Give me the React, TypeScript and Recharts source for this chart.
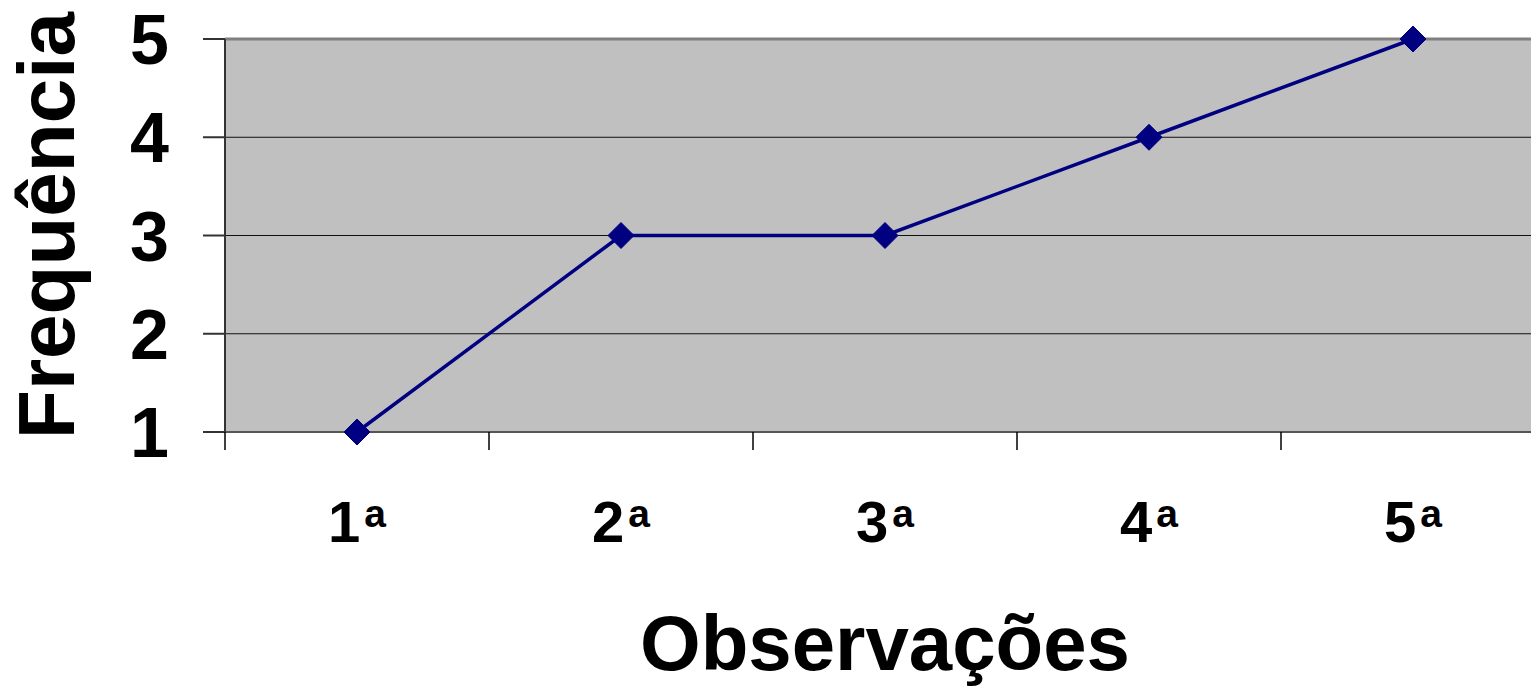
import { LineChart, Line, XAxis, YAxis, CartesianGrid, ReferenceLine } from 'recharts'

const observacoes = ['1', '2', '3', '4', '5']
const frequencias = [1, 3, 3, 4, 5]
const ticksY = [1, 2, 3, 4, 5]
// bordas das categorias (meios) e centros (inteiros)
const ticksX = [-0.5, 0, 0.5, 1, 1.5, 2, 2.5, 3, 3.5, 4, 4.5]

const dados = observacoes.map((obs, i) => ({ idx: i, obs, freq: frequencias[i] }))

const FONTE = '"Liberation Sans", Arial, Helvetica, sans-serif'

function TickX(props: any) {
  const { x, y, payload } = props
  const v = payload.value
  if (!Number.isInteger(v)) {
    return <line x1={x} y1={y} x2={x} y2={y + 18} stroke="#000" strokeWidth={1.5} />
  }
  return (
    <text x={x} y={y} dy={110} textAnchor="middle" fontFamily={FONTE} fontWeight="bold" fontSize={58} fill="#000">
      {observacoes[v]}
      <tspan fontSize={39} dx={4} dy={-15}>a</tspan>
    </text>
  )
}

function TickY(props: any) {
  const { x, y, payload } = props
  return (
    <text x={x} y={y} dx={-34} dy={25} textAnchor="end" fontFamily={FONTE} fontWeight="bold" fontSize={70} fill="#000">
      {payload.value}
    </text>
  )
}

function Losango(props: any) {
  const { cx, cy } = props
  if (cx == null || cy == null) return null
  const r = 13
  return (
    <polygon
      points={`${cx},${cy - r} ${cx + r},${cy} ${cx},${cy + r} ${cx - r},${cy}`}
      fill="#000080"
      stroke="#000080"
    />
  )
}

export default function App() {
  return (
    <div style={{ position: 'absolute', left: 0, top: 0, width: 1531, height: 687, overflow: 'hidden', background: '#fff' }}>
      <LineChart width={1546} height={687} data={dados} margin={{ top: 39, right: 1, left: 0, bottom: 0 }}>
        <CartesianGrid vertical={false} fill="#C0C0C0" stroke="#111" strokeWidth={1} />
        <ReferenceLine y={5} stroke="#808080" strokeWidth={3} />
        <XAxis
          dataKey="idx"
          type="number"
          domain={[-0.5, 4.5]}
          ticks={ticksX}
          interval={0}
          tickLine={false}
          tickSize={0}
          tickMargin={0}
          tick={<TickX />}
          height={255}
          stroke="#555"
          strokeWidth={2}
          label={(p: any) => {
            const vb = p.viewBox
            return (
              <text x={vb.x + vb.width / 2} y={vb.y + 238} textAnchor="middle" fontFamily={FONTE} fontWeight="bold" fontSize={78} fill="#000">
                Observações
              </text>
            )
          }}
        />
        <YAxis
          type="number"
          domain={[1, 5]}
          ticks={ticksY}
          interval={0}
          width={225}
          tickSize={22}
          tickMargin={0}
          tick={<TickY />}
          stroke="#333"
          strokeWidth={2}
          label={(p: any) => {
            const vb = p.viewBox
            const cx = vb.x + 74
            const cy = vb.y + vb.height / 2 - 10
            return (
              <text x={cx} y={cy} transform={`rotate(-90 ${cx} ${cy})`} textAnchor="middle" fontFamily={FONTE} fontWeight="bold" fontSize={80} fill="#000">
                Frequência
              </text>
            )
          }}
        />
        <Line
          type="linear"
          dataKey="freq"
          stroke="#000080"
          strokeWidth={3.5}
          dot={<Losango />}
          activeDot={false}
          isAnimationActive={false}
        />
      </LineChart>
    </div>
  )
}
